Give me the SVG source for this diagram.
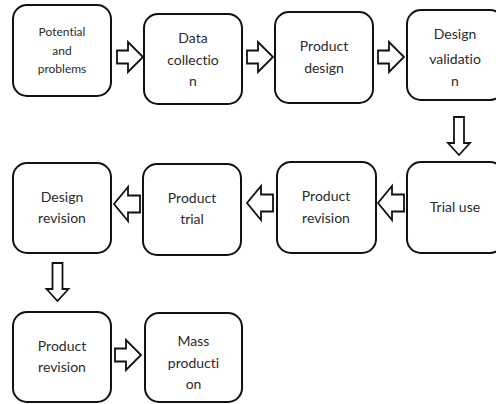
<svg xmlns="http://www.w3.org/2000/svg" width="496" height="404" viewBox="0 0 496 404">
<defs>
<style>
.box{fill:#fff;stroke:#111;stroke-width:2}
.arr{fill:#fff;stroke:#111;stroke-width:1.8;stroke-linejoin:miter}
text{font-family:Lato,"Liberation Sans",sans-serif;font-size:14px;fill:#2b2b2b;text-anchor:middle;font-variant-ligatures:none;font-feature-settings:"liga" 0,"clig" 0}
.sm{font-size:12px}
</style>
<path id="ar" d="M0,-6.5 H11 V-15 L26,0 L11,15 V6.5 H0 Z"/>
<path id="al" d="M26,-8.5 H14 V-17 L0,0 L14,17 V8.5 H26 Z"/>
<path id="ad" d="M-5,0 V26 H-11 L0,38 L11,26 H5 V0 Z"/>
</defs>
<rect width="496" height="404" fill="#fff"/>
<g id="connectors">
<use href="#ar" class="arr" transform="translate(117,57)"/>
<use href="#ar" class="arr" transform="translate(247,57)"/>
<use href="#ar" class="arr" transform="translate(378,57)"/>
<use href="#ad" class="arr" transform="translate(459,117)"/>
<use href="#al" class="arr" transform="translate(378,203)"/>
<use href="#al" class="arr" transform="translate(247,203)"/>
<use href="#al" class="arr" transform="translate(114,204)"/>
<use href="#ad" class="arr" transform="translate(57.5,263)"/>
<use href="#ar" class="arr" transform="translate(115,355)"/>
</g>
<g id="n1"><rect class="box" x="13" y="5" width="98" height="91" rx="14"/>
<text class="sm" x="62" y="36">Potential</text><text class="sm" x="62" y="55">and</text><text class="sm" x="62" y="73">problems</text></g>
<g id="n2"><rect class="box" x="144" y="14" width="98" height="90" rx="14"/>
<text x="193" y="43">Data</text><text x="193" y="65">collectio</text><text x="193" y="86">n</text></g>
<g id="n3"><rect class="box" x="275" y="12" width="98" height="91" rx="14"/>
<text x="324" y="51">Product</text><text x="324" y="73">design</text></g>
<g id="n4"><rect class="box" x="407" y="10" width="97" height="90" rx="14"/>
<text x="455" y="39">Design</text><text x="455" y="64">validatio</text><text x="455" y="86">n</text></g>
<g id="n5"><rect class="box" x="407" y="162" width="97" height="91" rx="14"/>
<text x="455" y="212">Trial use</text></g>
<g id="n6"><rect class="box" x="277" y="162" width="99" height="91" rx="14"/>
<text x="326" y="201">Product</text><text x="326" y="223">revision</text></g>
<g id="n7"><rect class="box" x="143" y="164" width="98" height="91" rx="14"/>
<text x="192" y="203">Product</text><text x="192" y="224">trial</text></g>
<g id="n8"><rect class="box" x="13" y="163" width="98" height="90" rx="14"/>
<text x="62" y="202">Design</text><text x="62" y="223">revision</text></g>
<g id="n9"><rect class="box" x="13" y="312" width="98" height="90" rx="14"/>
<text x="62" y="351">Product</text><text x="62" y="372">revision</text></g>
<g id="n10"><rect class="box" x="145" y="313" width="97" height="89" rx="14"/>
<text x="193.5" y="346">Mass</text><text x="193.5" y="368">producti</text><text x="193.5" y="389">on</text></g>
</svg>
